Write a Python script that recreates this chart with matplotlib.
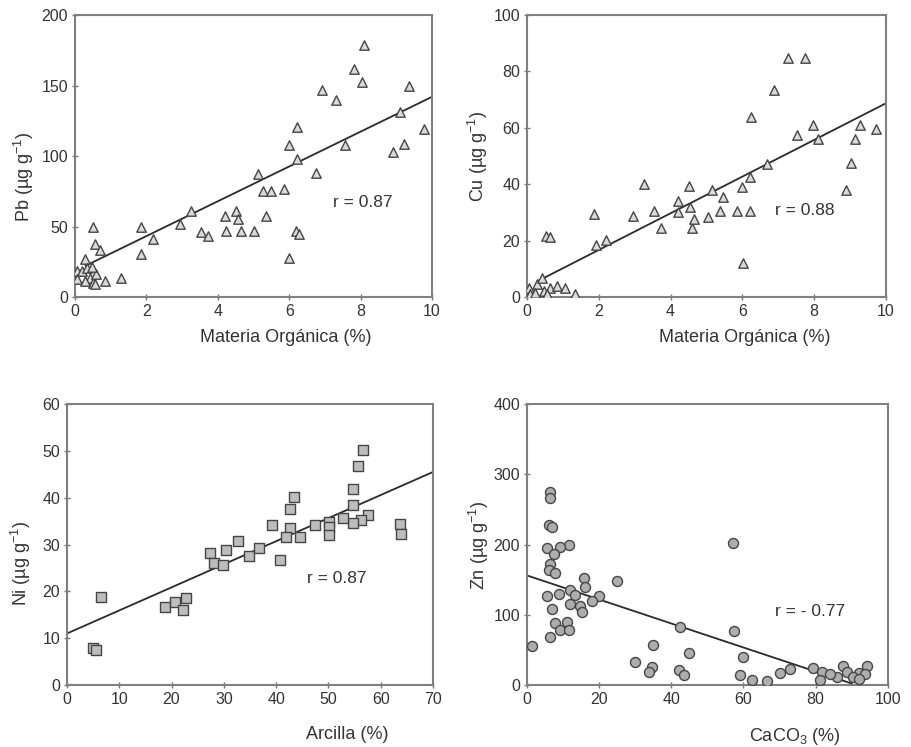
import matplotlib
matplotlib.use('Agg')
import matplotlib.pyplot as plt
import numpy as np

plt.rcParams['font.family'] = ['Liberation Sans', 'DejaVu Sans']
plt.rcParams['mathtext.fontset'] = 'custom'
plt.rcParams['mathtext.rm'] = 'Liberation Sans'
plt.rcParams['mathtext.it'] = 'Liberation Sans:italic'

# Pb vs materia organica
pb_x = [8.09, 7.8, 8.05, 9.35, 6.93, 7.3, 6.23, 9.77, 9.1, 9.2, 8.9, 6.0, 7.55, 6.23,
        6.74, 5.12, 5.26, 5.49, 5.84, 3.26, 2.93, 4.51, 4.19, 4.56, 5.35, 3.53, 3.72,
        4.23, 4.65, 5.0, 6.19, 6.28, 6.0, 1.86, 1.84, 2.19, 0.51, 0.56, 0.7, 1.28, 0.84,
        0.28, 0.05, 0.05, 0.19, 0.33, 0.42, 0.51, 0.6, 0.28, 0.47, 0.56]
pb_y = [178.6, 162, 152.5, 150, 146.6, 139.5, 120.5, 119.3, 131, 108.6, 102.7, 107.5, 108,
        98, 88, 87.3, 75.4, 75.4, 76.6, 61.2, 51.7, 61.2, 57.6, 55.3, 57.6, 45.8, 43.4,
        47, 47, 47, 47, 44.6, 28, 49.3, 30.4, 41, 49.3, 37.5, 33.2, 13.3, 11.4,
        26.8, 18.5, 12.6, 18.5, 20.9, 13.8, 10.2, 16, 11.4, 21, 9]

# Cu vs materia organica
cu_x = [7.28, 7.75, 6.88, 6.23, 7.98, 9.28, 9.72, 7.51, 8.12, 9.14, 9.04, 6.68, 6.22, 6.0,
        8.88, 3.25, 4.5, 5.15, 5.47, 4.22, 4.55, 4.22, 3.53, 2.95, 5.03, 5.38, 5.84, 6.22,
        1.88, 3.73, 4.59, 4.64, 1.93, 2.21, 6.03, 0.54, 0.63, 0.05, 0.09, 0.28, 0.42,
        0.46, 0.65, 0.83, 1.07, 1.35, 0.23, 0.56]
cu_y = [84.6, 84.6, 73.5, 63.8, 60.9, 60.9, 59.7, 57.3, 56.1, 56.1, 47.4, 47.2, 42.7, 39.1,
        38, 40.1, 39.3, 38, 35.6, 34.2, 31.8, 30, 30.6, 28.8, 28.5, 30.6, 30.6, 30.6,
        29.4, 24.4, 24.4, 27.6, 18.5, 20.2, 12, 21.7, 21.4, 3.3, 1, 4.5, 6.9,
        2.1, 3.3, 3.9, 3.1, 1.2, 1.5, 0.9]

# Ni vs arcilla
ni_x = [56.6, 55.7, 54.7, 43.4, 42.6, 54.7, 57.6, 56.3, 54.7, 52.8, 50.2, 50.2, 50.2, 47.4,
        63.6, 63.9, 39.2, 42.6, 44.5, 41.9, 40.7, 32.7, 30.5, 27.3, 28.2, 29.8, 34.9, 36.8,
        6.6, 18.7, 20.6, 22.8, 22.2, 5.0, 5.5]
ni_y = [50.2, 46.8, 41.8, 40.2, 37.7, 38.4, 36.3, 35.2, 34.7, 35.6, 34.9, 33.8, 32.0, 34.2,
        34.4, 32.2, 34.2, 33.5, 31.7, 31.7, 26.8, 30.7, 28.8, 28.3, 26.0, 25.6, 27.6, 29.2,
        18.9, 16.7, 17.8, 18.5, 16.0, 8.0, 7.5]

# Zn vs CaCO3
zn_x = [6.5, 6.5, 6.0, 6.9, 57, 11.5, 9.2, 5.5, 7.4, 6.5, 6.0, 7.8, 24.9, 15.7, 16.2, 12.0,
        8.8, 5.5, 13.4, 19.9, 18.0, 12.0, 14.8, 15.2, 6.9, 11.1, 7.8, 9.2, 11.5, 6.5, 1.4,
        42.5, 57.4, 34.9, 44.8, 60, 30, 34.6, 33.7, 42, 43.4, 59.1, 62.3, 66.5, 70.2, 72.9,
        79.4, 81.7, 81.3, 85.9, 87.7, 88.6, 91.9, 94.2, 93.8, 90.5, 91.9, 84]
zn_y = [275, 266, 228, 225, 202, 199, 197, 195, 187, 173, 164, 159, 148, 153, 140, 135,
        130, 127, 128, 127, 120, 116, 112, 104, 108, 90, 88, 78, 79, 69, 56,
        82, 77, 57, 45, 40, 33, 26, 19, 21, 14, 14, 7, 6, 17.5, 23,
        24, 19, 7, 12, 27, 18, 17, 27, 16, 11, 8, 16]

# regression lines (intercept, slope, x range)
pb_fit = (18.5, 12.35, 0.3, 10)
cu_fit = (3.7, 6.5, 0.3, 10)
ni_fit = (11.0, 0.493, 0, 70)
zn_fit = (156, -1.71, 0, 90)

panels = [
    dict(pos=[0.0823, 0.6024, 0.392, 0.3775], x=pb_x, y=pb_y, fit=pb_fit, marker='^',
         face='#dadada', xlim=(0, 10), ylim=(0, 200), xt=np.arange(0, 11, 2),
         yt=np.arange(0, 201, 50), xl='Materia Orgánica (%)', yl='Pb (µg g$^{-1}$)',
         r='r = 0.87', rxy=(8.05, 67), xlc=(0.59, -0.115), ylc=(-0.108, 0.426)),
    dict(pos=[0.5785, 0.6024, 0.394, 0.3775], x=cu_x, y=cu_y, fit=cu_fit, marker='^',
         face='#dadada', xlim=(0, 10), ylim=(0, 100), xt=np.arange(0, 11, 2),
         yt=np.arange(0, 101, 20), xl='Materia Orgánica (%)', yl='Cu (µg g$^{-1}$)',
         r='r = 0.88', rxy=(7.75, 30.6), xlc=(0.607, -0.115), ylc=(-0.104, 0.50)),
    dict(pos=[0.0735, 0.083, 0.4018, 0.376], x=ni_x, y=ni_y, fit=ni_fit, marker='s',
         face='#bdbdbd', xlim=(0, 70), ylim=(0, 60), xt=np.arange(0, 71, 10),
         yt=np.arange(0, 61, 10), xl='Arcilla (%)', yl='Ni (µg g$^{-1}$)',
         r='r = 0.87', rxy=(51.5, 22.8), xlc=(0.765, -0.147), ylc=(-0.093, 0.434)),
    dict(pos=[0.5785, 0.083, 0.396, 0.376], x=zn_x, y=zn_y, fit=zn_fit, marker='o',
         face='#adadad', xlim=(0, 100), ylim=(0, 400), xt=np.arange(0, 101, 20),
         yt=np.arange(0, 401, 100), xl='CaCO$_3$ (%)', yl='Zn (µg g$^{-1}$)',
         r='r = - 0.77', rxy=(78.5, 104), xlc=(0.742, -0.147), ylc=(-0.1, 0.498)),
]

fig = plt.figure(figsize=(9.11, 7.47), dpi=100)
for p in panels:
    ax = fig.add_axes(p['pos'])
    size = 46 if p['marker'] == '^' else (44 if p['marker'] == 's' else 52)
    ax.scatter(p['x'], p['y'], marker=p['marker'], s=size, facecolor=p['face'],
               edgecolor='#454545', linewidth=1.0, zorder=3)
    b0, b1, xa, xb = p['fit']
    xs = np.array([xa, xb])
    ax.plot(xs, b0 + b1 * xs, color='#2a2a2a', linewidth=1.3, zorder=2)
    ax.set_xlim(*p['xlim'])
    ax.set_ylim(*p['ylim'])
    ax.set_xticks(p['xt'])
    ax.set_yticks(p['yt'])
    ax.tick_params(direction='inout', length=4, width=1, color='#777777',
                   labelsize=11.5, labelcolor='#333333', pad=3)
    for s in ax.spines.values():
        s.set_color('#808080')
        s.set_linewidth(1.5)
    ax.set_xlabel(p['xl'], fontsize=13, color='#333333')
    ax.set_ylabel(p['yl'], fontsize=13, color='#333333')
    ax.xaxis.set_label_coords(*p['xlc'])
    ax.yaxis.set_label_coords(*p['ylc'])
    ax.text(p['rxy'][0], p['rxy'][1], p['r'], fontsize=12.5, color='#333333',
            ha='center', va='center')

fig.savefig('out.png', dpi=100)
